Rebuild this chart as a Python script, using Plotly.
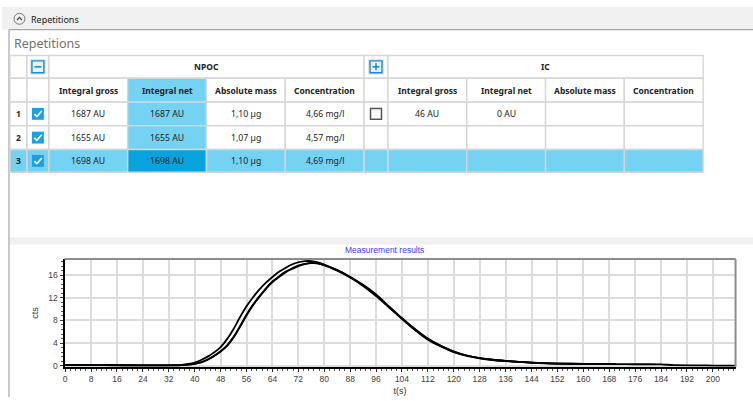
import plotly.graph_objects as go

# Messkurven der drei Wiederholungen (t in s, Signal in cts)
rep1_t = [0, 12, 24, 34, 36, 38, 40, 42, 44, 46, 48, 50, 52, 54, 56, 58, 60, 62, 64, 66, 68, 70, 72, 74, 76, 78, 80,
          84, 88, 92, 96, 100, 104, 108, 112, 116, 120, 124, 128, 132, 136, 140, 144, 148, 152, 160, 170]
rep1_cts = [0.15, 0.1, 0.05, 0.08, 0.15, 0.3, 0.55, 1.0, 1.6, 2.35, 3.3, 4.7, 6.5, 8.6, 10.5, 12.1, 13.5, 14.7, 15.7,
            16.6, 17.3, 17.9, 18.3, 18.5, 18.5, 18.3, 17.9,
            16.9, 15.7, 14.3, 12.6, 10.5, 8.4, 6.5, 4.8, 3.5, 2.5, 1.8, 1.35, 1.05, 0.85, 0.68, 0.55, 0.45, 0.38,
            0.32, 0.3]

rep2_t = [0, 12, 24, 34, 36, 38, 40, 42, 44, 46, 48, 50, 52, 54, 56, 58, 60, 62, 64, 66, 68, 70, 72, 74, 76, 78, 80,
          84, 88, 92, 96, 100, 104, 108, 112, 116, 120, 124, 128, 132, 136, 140, 144, 148, 152, 160, 170]
rep2_cts = [0.1, 0.08, 0.05, 0.05, 0.1, 0.18, 0.33, 0.6, 1.05, 1.7, 2.5, 3.5, 5.0, 6.9, 8.9, 10.7, 12.2, 13.6, 14.8,
            15.7, 16.5, 17.1, 17.6, 17.95, 18.15, 18.1, 17.8,
            16.8, 15.6, 14.1, 12.3, 10.3, 8.3, 6.4, 4.7, 3.5, 2.5, 1.8, 1.35, 1.05, 0.85, 0.68, 0.55, 0.45, 0.38,
            0.32, 0.3]

rep3_t = [12, 24, 34, 36, 38, 40, 42, 44, 46, 48, 50, 52, 54, 56, 58, 60, 62, 64, 66, 68, 70, 72, 74, 76, 78, 80,
          84, 88, 92, 96, 100, 104, 108, 112, 116, 120, 124, 128, 132, 136, 140, 144, 148, 152,
          160, 170, 176, 184, 188, 196, 200, 207]
rep3_cts = [0.1, 0.05, 0.05, 0.1, 0.2, 0.35, 0.63, 1.1, 1.75, 2.55, 3.6, 5.1, 7.0, 9.0, 10.8, 12.3, 13.7, 14.9,
            15.8, 16.6, 17.2, 17.7, 18.0, 18.2, 18.1, 17.8,
            16.9, 15.7, 14.2, 12.5, 10.4, 8.3, 6.3, 4.6, 3.4, 2.4, 1.75, 1.3, 1.0, 0.82, 0.66, 0.52, 0.42, 0.35,
            0.3, 0.27, 0.25, 0.24, 0.08, 0.06, 0.02, 0.0]

y_ticks = [0, 4, 8, 12, 16]

# Tabelle
group_names = ["NPOC", "IC"]
column_names = ["Integral gross", "Integral net", "Absolute mass", "Concentration"]
row_ids = ["1", "2", "3"]
npoc_values = [["1687 AU", "1687 AU", "1,10 µg", "4,66 mg/l"],
               ["1655 AU", "1655 AU", "1,07 µg", "4,57 mg/l"],
               ["1698 AU", "1698 AU", "1,10 µg", "4,69 mg/l"]]
ic_values = [["46 AU", "0 AU", "", ""],
             ["", "", "", ""],
             ["", "", "", ""]]
npoc_checked = [True, True, True]
ic_checked = [False, None, None]
selected_row = 2

# Farben / Layout (Pixel)
W, H = 753, 401
CYAN = "#74d3f2"
DARK = "#06a3dc"
GRID = "#d6d6d6"
BLUE = "#1ba1e2"
UI_FONT = "Noto Sans"

col_w = [17, 22, 79, 79, 79, 79, 24, 79, 79, 79, 79]
row_h = [23, 24, 24, 24, 23]
xe = [8]
for w in col_w:
    xe.append(xe[-1] + w)
ye = [56]
for h in row_h:
    ye.append(ye[-1] + h)

shapes = []
annots = []


def rect(x0, y0, x1, y1, fill="rgba(0,0,0,0)", line=None, lw=1.0):
    shapes.append(dict(type="rect", xref="x2", yref="y2", x0=x0, y0=y0, x1=x1, y1=y1,
                       fillcolor=fill, line=dict(color=line or "rgba(0,0,0,0)", width=lw if line else 0),
                       layer="above"))


def line(x0, y0, x1, y1, color, lw=1.0):
    shapes.append(dict(type="line", xref="x2", yref="y2", x0=x0, y0=y0, x1=x1, y1=y1,
                       line=dict(color=color, width=lw), layer="above"))


def path(p, color, lw=1.0):
    shapes.append(dict(type="path", xref="x2", yref="y2", path=p, line=dict(color=color, width=lw), layer="above"))


def text(x, y, s, size=9, color="#222222", bold=False, anchor="center", family=UI_FONT):
    annots.append(dict(x=x, y=y, xref="x2", yref="y2", text=f"<b>{s}</b>" if bold else s, showarrow=False,
                       xanchor=anchor, yanchor="middle", font=dict(size=size, color=color, family=family)))


def checkbox(cx, cy, checked):
    if checked:
        rect(cx - 6, cy - 6, cx + 6, cy + 6, fill=BLUE)
        path(f"M {cx-3.6},{cy+0.2} L {cx-1},{cy+2.8} L {cx+3.8},{cy-2.8}", "white", 1.6)
    else:
        rect(cx - 5.5, cy - 5.5, cx + 5.5, cy + 5.5, fill="white", line="#555555", lw=1.5)


def toggle(cx, cy, plus):
    rect(cx - 8, cy - 8, cx + 8, cy + 8, fill="#e4e4e4")
    rect(cx - 6, cy - 6, cx + 6, cy + 6, fill="#e8f4fc", line="#1a8ad4", lw=1.4)
    line(cx - 3.5, cy, cx + 3.5, cy, "#1a8ad4", 1.6)
    if plus:
        line(cx, cy - 3.5, cx, cy + 3.5, "#1a8ad4", 1.6)


# Kopfleiste + Panelrahmen
rect(0, 7, W, 30, fill="#f0f0f0")
line(7, 30, W, 30, "#a6a6a6", 1.2)
line(7, 30, 7, H, "#a6a6a6", 1.2)
shapes.append(dict(type="circle", xref="x2", yref="y2", x0=12, y0=13.5, x1=23, y1=24.5,
                   line=dict(color="#777777", width=1), layer="above"))
path("M 15,20.3 L 17.5,17.6 L 20,20.3", "#333333", 1.1)
text(27, 19.5, "Repetitions", size=9, color="#1a1a1a", anchor="left")
text(10, 44, "Repetitions", size=12.5, color="#707070", anchor="left")

# Kopfzeile 1
cy = (ye[0] + ye[1]) / 2
rect(xe[0], ye[0], xe[1], ye[1], fill="white", line=GRID, lw=1.4)
rect(xe[1], ye[0], xe[2], ye[1], fill="white", line=GRID, lw=1.4)
rect(xe[2], ye[0], xe[6], ye[1], fill="white", line=GRID, lw=1.4)
rect(xe[6], ye[0], xe[7], ye[1], fill="white", line=GRID, lw=1.4)
rect(xe[7], ye[0], xe[11], ye[1], fill="white", line=GRID, lw=1.4)
toggle((xe[1] + xe[2]) / 2, cy, False)
toggle((xe[6] + xe[7]) / 2, cy, True)
text((xe[2] + xe[6]) / 2, cy, group_names[0], bold=True, size=8.5)
text((xe[7] + xe[11]) / 2, cy, group_names[1], bold=True, size=8.5)

# Kopfzeile 2
cy = (ye[1] + ye[2]) / 2
for c in range(11):
    fill = CYAN if c == 3 else "white"
    rect(xe[c], ye[1], xe[c + 1], ye[2], fill=fill, line=GRID, lw=1.4)
for start in [2, 7]:
    for k, name in enumerate(column_names):
        text((xe[start + k] + xe[start + k + 1]) / 2, cy, name, bold=True, size=8.5)

# Datenzeilen
for r in range(len(row_ids)):
    y0, y1 = ye[r + 2], ye[r + 3]
    cy = (y0 + y1) / 2
    sel = r == selected_row
    for c in range(11):
        fill = CYAN if sel else "white"
        if c == 3:
            fill = DARK if sel else CYAN
        rect(xe[c], y0, xe[c + 1], y1, fill=fill, line=GRID, lw=1.4)
    text((xe[0] + xe[1]) / 2, cy, row_ids[r], bold=True, size=8.5)
    if npoc_checked[r] is not None:
        checkbox((xe[1] + xe[2]) / 2, cy, npoc_checked[r])
    if ic_checked[r] is not None:
        checkbox((xe[6] + xe[7]) / 2, cy, ic_checked[r])
    for k in range(4):
        text((xe[2 + k] + xe[3 + k]) / 2, cy, npoc_values[r][k], size=8.7)
        if ic_values[r][k]:
            text((xe[7 + k] + xe[8 + k]) / 2, cy, ic_values[r][k], size=8.7)

# Trennband über dem Diagramm
rect(8, 240, W, 247, fill="#f0f0f0")
text(384, 253, "Measurement results", size=8.5, color="#3a3af0", family="Liberation Sans")

# Diagrammrahmen oben / rechts (grau)
px0, px1, py0, py1 = 62.7, 735.5, 261.7, 370.5
line(px0, py0, px1, py0, "#8c8c8c", 2)
line(px1, py0, px1, py1, "#8c8c8c", 2)

fig = go.Figure()
for t, v in [(rep1_t, rep1_cts), (rep2_t, rep2_cts), (rep3_t, rep3_cts)]:
    fig.add_trace(go.Scatter(x=t, y=v, mode="lines", line=dict(color="black", width=1.8, shape="spline",
                                                               smoothing=0.6),
                             showlegend=False, hoverinfo="x+y"))

axis_font = dict(family="Liberation Sans", size=8.5, color="#404040")
fig.update_layout(
    width=W, height=H,
    margin=dict(l=0, r=0, t=0, b=0),
    paper_bgcolor="white",
    plot_bgcolor="rgba(0,0,0,0)",
    showlegend=False,
    xaxis=dict(
        domain=[px0 / W, px1 / W], range=[-0.2, 207], tick0=0, dtick=8,
        showgrid=True, gridcolor="#dcdcdc", gridwidth=1.5, zeroline=False,
        showline=True, linecolor="black", linewidth=2,
        ticks="outside", ticklen=3, tickcolor="#333333", tickfont=axis_font,
        minor=dict(ticks="outside", ticklen=2, dtick=1.6, tickcolor="#555555", showgrid=False),
        title=dict(text="t(s)", font=dict(family="Liberation Sans", size=9, color="#333333"), standoff=5),
    ),
    yaxis=dict(
        domain=[1 - py1 / H, 1 - py0 / H], range=[-0.2, 18.86], tickvals=y_ticks,
        showgrid=True, gridcolor="#dcdcdc", gridwidth=1.5, zeroline=False,
        showline=True, linecolor="black", linewidth=2,
        ticks="outside", ticklen=3, tickcolor="#333333", tickfont=axis_font,
        minor=dict(ticks="outside", ticklen=2, dtick=0.8, tickcolor="#555555", showgrid=False),
        title=dict(text="cts", font=dict(family="Liberation Sans", size=9, color="#333333"), standoff=8),
    ),
    xaxis2=dict(domain=[0, 1], range=[0, W], visible=False, anchor="y2", fixedrange=True),
    yaxis2=dict(domain=[0, 1], range=[H, 0], visible=False, anchor="x2", fixedrange=True),
    shapes=shapes,
    annotations=annots,
)

# Browser-Standardrand (8px) der Seite entfernen, keine Modebar
fig.write_html("out.html", config={"displayModeBar": False},
               post_script="document.body.style.margin='0';")
